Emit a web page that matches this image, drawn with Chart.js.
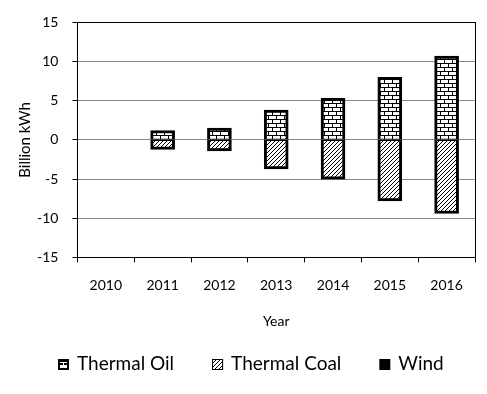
<!DOCTYPE html>
<html>
<head>
<meta charset="utf-8">
<script src="https://cdn.jsdelivr.net/npm/chart.js@4"></script>
<style>
html,body{margin:0;padding:0;background:#fff;}
#wrap{width:487px;height:394px;position:relative;}
</style>
</head>
<body>
<div id="wrap"><canvas id="c" width="487" height="394"></canvas></div>
<script>
const years = ['2010','2011','2012','2013','2014','2015','2016'];
const thermalOil = [null, 1.2, 1.5, 3.8, 5.3, 8.0, 10.7];
const thermalCoal = [null, -1.2, -1.4, -3.7, -5.0, -7.8, -9.4];
const wind = [null, null, null, null, null, null, null];
const seriesNames = ['Thermal Oil', 'Thermal Coal', 'Wind'];
const yTicks = [-15, -10, -5, 0, 5, 10, 15];

function makePattern(w, h, draw) {
  const cv = document.createElement('canvas');
  cv.width = w; cv.height = h;
  const g = cv.getContext('2d');
  g.fillStyle = '#fff'; g.fillRect(0, 0, w, h);
  g.fillStyle = '#000';
  draw(g);
  return document.getElementById('c').getContext('2d').createPattern(cv, 'repeat');
}
const brick = makePattern(8, 8, g => {
  g.fillRect(0, 3, 8, 1);
  g.fillRect(0, 7, 8, 1);
  g.fillRect(0, 0, 1, 3);
  g.fillRect(4, 4, 1, 3);
});
const hatch = makePattern(4, 4, g => {
  g.fillRect(0, 3, 1, 1);
  g.fillRect(1, 2, 1, 1);
  g.fillRect(2, 1, 1, 1);
  g.fillRect(3, 0, 1, 1);
});

const FONT = 'Lato, "Open Sans", sans-serif';

const frame = {
  id: 'frame',
  beforeDatasetsDraw(chart) {
    const a = chart.chartArea, ctx = chart.ctx;
    ctx.save();
    ctx.strokeStyle = '#000';
    ctx.lineWidth = 1;
    ctx.strokeRect(Math.round(a.left) + 0.5, Math.round(a.top) + 0.5, Math.round(a.right - a.left), Math.round(a.bottom - a.top));
    ctx.restore();
  }
};

const customLegend = {
  id: 'customLegend',
  afterDraw(chart) {
    const ctx = chart.ctx;
    const box = 11, gapBT = 8, gapItem = 38;
    const cy = 364;
    ctx.save();
    ctx.font = '19px ' + FONT;
    ctx.textBaseline = 'middle';
    ctx.textAlign = 'left';
    const widths = seriesNames.map(t => ctx.measureText(t).width);
    const total = widths.reduce((s, w) => s + box + gapBT + w, 0) + gapItem * (seriesNames.length - 1);
    let x = Math.round(251 - total / 2);
    seriesNames.forEach((name, i) => {
      const bx = x, by = Math.round(cy - box / 2);
      if (i === 0) {
        ctx.fillStyle = '#000';
        ctx.fillRect(bx, by, box, box);
        ctx.fillStyle = '#fff';
        ctx.fillRect(bx + 2, by + 3, 7, 1);
        ctx.fillRect(bx + 2, by + 6, 7, 1);
        ctx.fillRect(bx + 5, by + 4, 1, 2);
        ctx.fillRect(bx + 2, by + 7, 7, 2);
      } else if (i === 1) {
        ctx.fillStyle = hatch;
        ctx.fillRect(bx, by, box, box);
        ctx.strokeStyle = '#000';
        ctx.lineWidth = 1;
        ctx.strokeRect(bx + 0.5, by + 0.5, box - 1, box - 1);
      } else {
        ctx.fillStyle = '#000';
        ctx.fillRect(bx, by, box, box);
      }
      ctx.fillStyle = '#000';
      ctx.fillText(name, bx + box + gapBT, cy);
      x += box + gapBT + widths[i] + gapItem;
    });
    ctx.restore();
  }
};

new Chart(document.getElementById('c'), {
  type: 'bar',
  data: {
    labels: years,
    datasets: [
      { label: seriesNames[0], data: thermalOil, backgroundColor: brick, borderColor: '#000', borderWidth: { top: 3, left: 3, right: 3, bottom: 1 }, borderSkipped: false, barThickness: 24 },
      { label: seriesNames[1], data: thermalCoal, backgroundColor: hatch, borderColor: '#000', borderWidth: { top: 1, left: 3, right: 3, bottom: 3 }, borderSkipped: false, barThickness: 24 },
      { label: seriesNames[2], data: wind, backgroundColor: '#000', borderColor: '#000', borderWidth: 0, barThickness: 24 }
    ]
  },
  options: {
    responsive: false,
    animation: false,
    devicePixelRatio: 1,
    layout: { padding: { left: 16, right: 12, top: 10, bottom: 64 } },
    plugins: {
      legend: { display: false },
      tooltip: { enabled: false }
    },
    scales: {
      x: {
        stacked: true,
        grid: { display: true, drawOnChartArea: false, offset: true, tickLength: 5, color: '#000', tickColor: '#000' },
        border: { color: '#000', width: 1 },
        ticks: { color: '#000', font: { family: FONT, size: 14 }, padding: 15 },
        title: { display: true, text: 'Year', color: '#000', font: { family: FONT, size: 14 }, padding: { top: 4, bottom: 0 } }
      },
      y: {
        stacked: true,
        min: -15, max: 15,
        afterBuildTicks(axis) { axis.ticks = yTicks.map(v => ({ value: v })); },
        grid: { color: '#888', tickLength: 5, tickColor: '#000', lineWidth: 1 },
        border: { color: '#000', width: 1 },
        ticks: { color: '#000', font: { family: FONT, size: 14 }, padding: 14 },
        title: { display: true, text: 'Billion kWh', color: '#000', font: { family: FONT, size: 15 }, padding: { top: 0, bottom: -11 } }
      }
    }
  },
  plugins: [frame, customLegend]
});
</script>
</body>
</html>
